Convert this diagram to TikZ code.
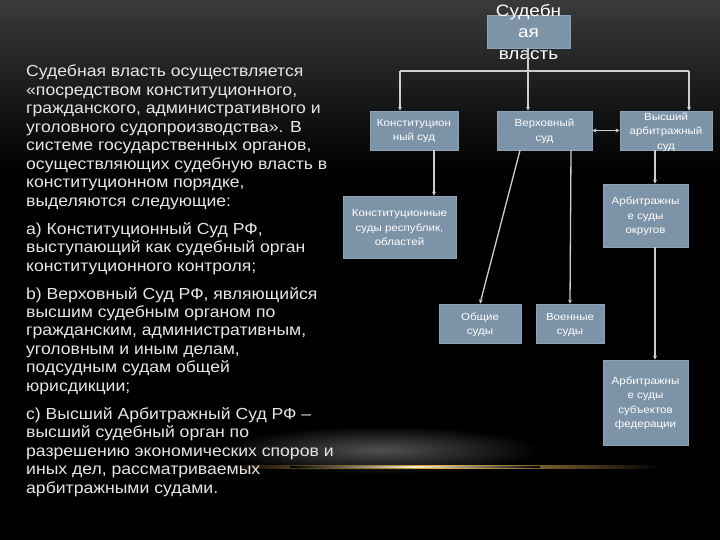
\documentclass[tikz,border=0pt]{standalone}
\usepackage{fontspec}
\setmainfont{Liberation Sans}
\newfontfamily\wideA[FakeStretch=1.10]{Liberation Sans}
\newfontfamily\wideB[FakeStretch=1.12]{Liberation Sans}
\newfontfamily\wideC[FakeStretch=1.15]{Liberation Sans}
\usetikzlibrary{arrows.meta,calc}
\definecolor{boxfill}{HTML}{7D93A8}
\definecolor{boxline}{HTML}{8FA2B4}
\definecolor{linec}{HTML}{C9CED3}
\definecolor{txt}{HTML}{E6E6E6}
\tikzset{
  box/.style={draw=boxline, line width=0.8pt, fill=boxfill, inner sep=0pt, rectangle},
  btext/.style={text=white, font=\wideB\fontsize{10.3}{14.5}\selectfont, align=center, inner sep=0pt},
  conn/.style={draw=linec, line width=1.3pt, -{Stealth[length=4pt,width=4pt]}},
}
\begin{document}
\begin{tikzpicture}[x=1pt,y=-1pt]
\useasboundingbox (0,0) rectangle (720,540);
\fill[black] (0,0) rectangle (720,540);
\shade[top color={rgb,255:red,58;green,58;blue,58}, bottom color=black] (0,0) rectangle (720,170);
% glow
\shade[inner color={rgb,255:red,80;green,80;blue,80}, outer color=black] (380,450) ellipse (160 and 24);
\shade[left color=black, right color=black, middle color={rgb,255:red,225;green,175;blue,85}] (220,465) rectangle (660,468);
\shade[left color=black, right color=black, middle color={rgb,255:red,255;green,240;blue,200}] (290,466) rectangle (540,467);

% boxes
\node[box, minimum width=83, minimum height=33] (top) at (528.5,31.5) {};
\node[box, minimum width=88, minimum height=39] (konst) at (414,130.5) {};
\node[box, minimum width=95, minimum height=39] (verkh) at (544.5,130.5) {};
\node[box, minimum width=92, minimum height=39] (vys) at (666,130.5) {};
\node[box, minimum width=113, minimum height=62] (konstrep) at (399.5,227) {};
\node[box, minimum width=85, minimum height=63] (arbokr) at (645.5,215.5) {};
\node[box, minimum width=82, minimum height=39] (obsch) at (480,323.5) {};
\node[box, minimum width=68, minimum height=39] (voen) at (570,323.5) {};
\node[box, minimum width=85, minimum height=85] (arbsub) at (645.5,402.5) {};

% box texts
\node[btext, font=\wideC\fontsize{16.5}{21.5}\selectfont] (ttop) at (528.5,32) {Судебн\\ая\\власть};
\node[btext] (tkonst) at (414,131) {Конституцион\\ный суд};
\node[btext] (tverkh) at (544.5,131) {Верховный\\суд};
\node[btext] (tvys) at (666,132) {Высший\\арбитражный\\суд};
\node[btext] (tkonstrep) at (399.5,228) {Конституционные\\суды республик,\\областей};
\node[btext] (tarbokr) at (645.5,216.5) {Арбитражны\\е суды\\округов};
\node[btext] (tobsch) at (480,325) {Общие\\суды};
\node[btext] (tvoen) at (570,325) {Военные\\суды};
\node[btext] (tarbsub) at (645.5,403.5) {Арбитражны\\е суды\\субъектов\\федерации};

% connectors
\coordinate (bus) at (528,71);
\coordinate (bl) at (400,71);
\coordinate (br) at (689,71);
\draw[draw=linec, line width=1.3pt] (top.south -| bus) -- (bus);
\draw[draw=linec, line width=1.3pt] (bl) -- (br);
\draw[conn] (bl) -- (bl |- konst.north);
\draw[conn] (bus) -- (bus |- verkh.north);
\draw[conn] (br) -- (br |- vys.north);
\draw[conn, {Stealth[length=4pt,width=4pt]}-{Stealth[length=4pt,width=4pt]}] (verkh.east) -- (vys.west);
\coordinate (k1) at ($(konst.south)+(20,0)$);
\draw[conn] (k1) -- (k1 |- konstrep.north);
\coordinate (v1) at ($(verkh.south)+(-24.5,0)$);
\draw[conn] (v1) -- (obsch.north);
\coordinate (v2) at ($(verkh.south)+(26.5,0)$);
\draw[conn] (v2) -- (voen.north);
\coordinate (a1) at ($(vys.south)+(-11,0)$);
\draw[conn] (a1) -- (a1 |- arbokr.north);
\coordinate (a2) at ($(arbokr.south)+(9.5,0)$);
\draw[conn] (a2) -- (a2 |- arbsub.north);

% left text
\node[anchor=north west, inner sep=0pt, text=txt, align=left,
      font=\wideA\fontsize{16}{18.45}\selectfont] (main) at (26,65) {%
Судебная власть осуществляется\\
«посредством конституционного,\\
гражданского, административного и\\
уголовного судопроизводства». В\\
системе государственных органов,\\
осуществляющих судебную власть в\\
конституционном порядке,\\
выделяются следующие:\\[9.6pt]
а) Конституционный Суд РФ,\\
выступающий как судебный орган\\
конституционного контроля;\\[9.6pt]
b) Верховный Суд РФ, являющийся\\
высшим судебным органом по\\
гражданским, административным,\\
уголовным и иным делам,\\
подсудным судам общей\\
юрисдикции;\\[9.6pt]
c) Высший Арбитражный Суд РФ –\\
высший судебный орган по\\
разрешению экономических споров и\\
иных дел, рассматриваемых\\
арбитражными судами.};
\end{tikzpicture}
\end{document}
